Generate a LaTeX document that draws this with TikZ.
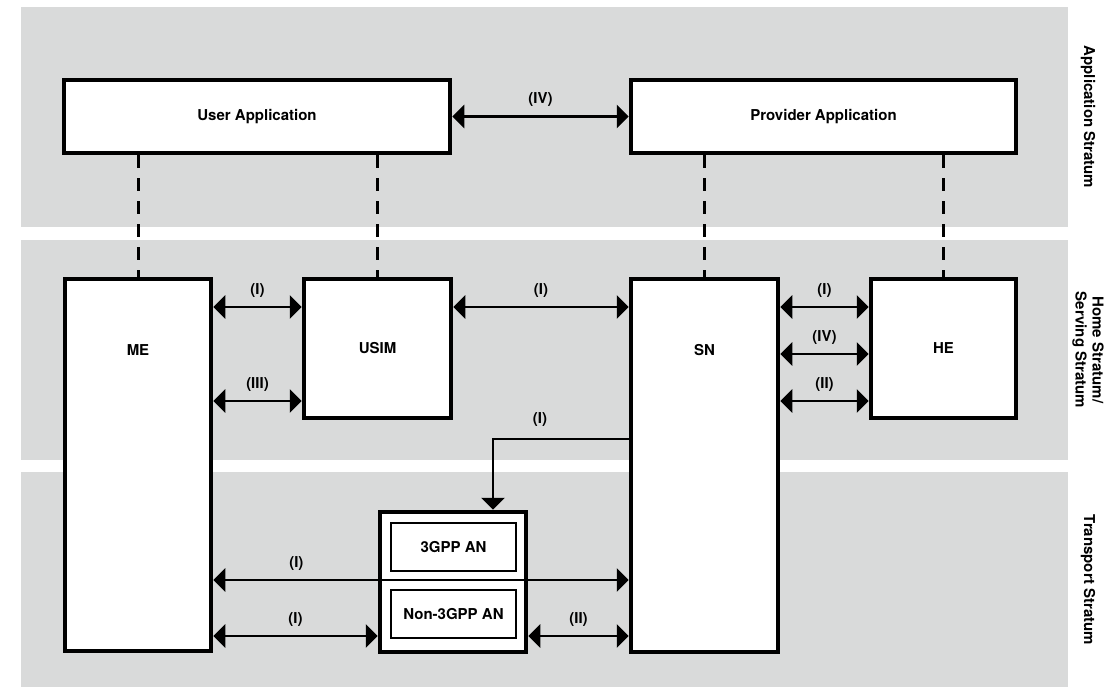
\documentclass[tikz,border=0pt]{standalone}
\usepackage{fontspec}
\setmainfont{TeX Gyre Heros}
\usetikzlibrary{arrows.meta}
\definecolor{stratumgray}{RGB}{217,218,218}

\begin{document}
\begin{tikzpicture}[x=1pt, y=-1pt,
    every node/.style={font=\fontsize{15}{17}\selectfont\bfseries},
    entity/.style={draw, line width=4.5pt, fill=white, inner sep=0pt},
    subentity/.style={draw, line width=2.5pt, fill=white, inner sep=0pt,
        minimum width=125pt, minimum height=48pt},
    iface/.style={{Triangle[length=12pt,width=23pt]}-{Triangle[length=12pt,width=23pt]},
        line width=2.7pt},
    link/.style={line width=3pt, dash pattern=on 13pt off 10pt},
    lbl/.style={midway, above=5pt},
    stratum/.style={rotate=-90, align=center}]

        \useasboundingbox (0,0) rectangle (1110,687);

        % --- Strata (grey bands) ---
        \fill[stratumgray] (21,7) rectangle (1068,227);
        \fill[stratumgray] (21,240) rectangle (1068,460);
        \fill[stratumgray] (21,472) rectangle (1068,687);

        % --- Stratum labels (right margin) ---
        \node[stratum] (appS)   at (1088,117) {Application Stratum};
        \node[stratum] (homeS)  at (1088,350) {Home Stratum/\\Serving Stratum};
        \node[stratum] (transS) at (1088,580) {Transport Stratum};

        % --- Application stratum ---
        \node[entity, minimum width=386pt, minimum height=73pt] (UA) at (257,116.5) {User Application};
        \node[entity, minimum width=385pt, minimum height=73pt] (PA) at (823.5,116.5) {Provider Application};

        % --- Home / serving stratum ---
        \node[entity, minimum width=146pt, minimum height=372pt] (ME) at (138,465) {};
        \node (MEtitle) at (138,350) {ME};
        \node[entity, minimum width=147pt, minimum height=139pt] (USIM) at (377.5,348.5) {USIM};
        \node[entity, minimum width=147pt, minimum height=373pt] (SN) at (704.5,465.5) {};
        \node (SNtitle) at (704.5,350) {SN};
        \node[entity, minimum width=145pt, minimum height=139pt] (HE) at (943.5,348.5) {HE};

        % --- Access networks (transport stratum) ---
        \node[entity, minimum width=146pt, minimum height=140pt] (AN) at (453,582) {};
        \node[subentity] (GAN)  at (453.5,547) {3GPP AN};
        \node[subentity] (NGAN) at (453.5,614) {Non-3GPP AN};

        % --- Rows of the interface arrows ---
        \coordinate (r1) at (0,307);
        \coordinate (r2) at (0,354);
        \coordinate (r3) at (0,401);
        \coordinate (rT1) at (0,580);
        \coordinate (rT2) at (0,636);
        \coordinate (bend) at (493,439);

        % --- Dashed links between strata ---
        \draw[link] (UA.south -| ME.north) -- (ME.north);
        \draw[link] (UA.south -| USIM.north) -- (USIM.north);
        \draw[link] (PA.south -| SN.north) -- (SN.north);
        \draw[link] (PA.south -| HE.north) -- (HE.north);

        % --- Interfaces ---
        \draw[iface] (UA.east) -- (PA.west) node[lbl] {(IV)};
        \draw[iface] (ME.east |- r1) -- (USIM.west |- r1) node[lbl] {(I)};
        \draw[iface] (ME.east |- r3) -- (USIM.west |- r3) node[lbl] {(III)};
        \draw[iface] (USIM.east |- r1) -- (SN.west |- r1) node[lbl] {(I)};
        \draw[iface] (SN.east |- r1) -- (HE.west |- r1) node[lbl] {(I)};
        \draw[iface] (SN.east |- r2) -- (HE.west |- r2) node[lbl] {(IV)};
        \draw[iface] (SN.east |- r3) -- (HE.west |- r3) node[lbl] {(II)};

        % --- SN down to the access networks ---
        \draw[line width=2.7pt, -{Triangle[length=12pt,width=23pt]}] (SN.west |- bend) -- (bend) -- (bend |- AN.north);
        \node (Ltitle) at (540,420) {(I)};

        \draw[iface] (ME.east |- rT1) -- (SN.west |- rT1) node[lbl, pos=0.2] {(I)};
        \draw[iface] (ME.east |- rT2) -- (AN.west |- rT2) node[lbl] {(I)};
        \draw[iface] (AN.east |- rT2) -- (SN.west |- rT2) node[lbl] {(II)};
    \end{tikzpicture}
\end{document}
